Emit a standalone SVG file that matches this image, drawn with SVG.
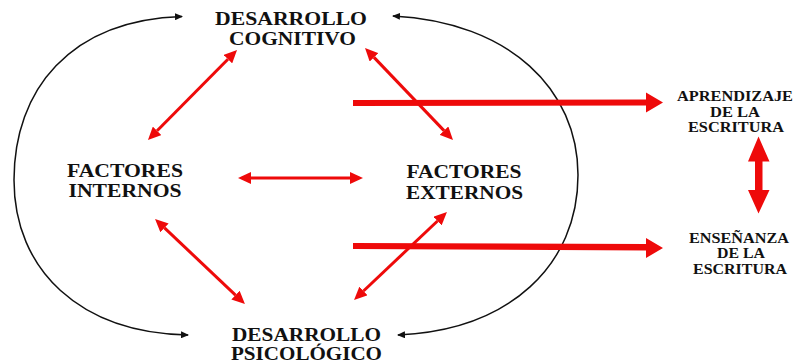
<svg xmlns="http://www.w3.org/2000/svg" width="794" height="364" viewBox="0 0 794 364">
<style>
  .t { font-family: "Liberation Serif", "Times New Roman", serif; font-weight: bold; fill: #111; text-anchor: middle; }
  .big { font-size: 19px; }
  .mid { font-size: 18px; }
  .sm { font-size: 14px; }
  .arc { fill: none; stroke: #111; stroke-width: 1.5; }
  .ra { fill: none; stroke: #ee0a0a; stroke-width: 3; }
  .thick { fill: #ee0a0a; }
</style>
<defs>
  <marker id="bh" viewBox="0 0 8 7" refX="7" refY="3.5" markerWidth="8" markerHeight="7" markerUnits="userSpaceOnUse" orient="auto-start-reverse">
    <path d="M0,0 L8,3.5 L0,7 z" fill="#111"/>
  </marker>
  <marker id="rh" viewBox="0 0 13 12" refX="0" refY="6" markerWidth="13" markerHeight="12" markerUnits="userSpaceOnUse" orient="auto-start-reverse">
    <path d="M0,0 L13,6 L0,12 z" fill="#ee0a0a"/>
  </marker>
</defs>

<g id="connectors">
  <path class="arc" d="M 182,16.5 C 70,20 14,90 14,180 C 14,270 80,333 188,335" marker-start="url(#bh)" marker-end="url(#bh)"/>
  <path class="arc" d="M 393,16 C 510,22 578,90 578,175 C 578,265 510,330 398,335" marker-start="url(#bh)" marker-end="url(#bh)"/>
  <line class="ra" x1="157.1" y1="130.8" x2="227.9" y2="59.2" marker-start="url(#rh)" marker-end="url(#rh)"/>
  <line class="ra" x1="374" y1="57.4" x2="444" y2="130.6" marker-start="url(#rh)" marker-end="url(#rh)"/>
  <line class="ra" x1="251" y1="178" x2="350" y2="178" marker-start="url(#rh)" marker-end="url(#rh)"/>
  <line class="ra" x1="164.5" y1="227.9" x2="235.5" y2="295.1" marker-start="url(#rh)" marker-end="url(#rh)"/>
  <line class="ra" x1="437.5" y1="221" x2="363.5" y2="291" marker-start="url(#rh)" marker-end="url(#rh)"/>
  <polygon class="thick" points="353,100 646,99.5 646,92.5 663,102.5 646,112.5 646,105.5 353,106"/>
  <polygon class="thick" points="353,243 646,244 646,238 663,248 646,258 646,250.5 353,249"/>
  <polygon class="thick" points="758.5,136.5 769.5,161.5 762.5,161.5 762.5,190 769.5,190 758.5,213.5 748,190 755,190 755,161.5 748,161.5"/>
</g>

<g id="desarrollo-cognitivo">
  <text class="t big" x="291" y="25" textLength="152" lengthAdjust="spacingAndGlyphs">DESARROLLO</text>
  <text class="t big" x="292.5" y="45" textLength="127" lengthAdjust="spacingAndGlyphs">COGNITIVO</text>
</g>
<g id="factores-internos">
  <text class="t mid" x="125" y="177" textLength="116" lengthAdjust="spacingAndGlyphs">FACTORES</text>
  <text class="t mid" x="125" y="197" textLength="113" lengthAdjust="spacingAndGlyphs">INTERNOS</text>
</g>
<g id="factores-externos">
  <text class="t mid" x="464" y="178" textLength="115" lengthAdjust="spacingAndGlyphs">FACTORES</text>
  <text class="t mid" x="464.5" y="199" textLength="117" lengthAdjust="spacingAndGlyphs">EXTERNOS</text>
</g>
<g id="desarrollo-psicologico">
  <text class="t big" x="306.5" y="341" textLength="149" lengthAdjust="spacingAndGlyphs">DESARROLLO</text>
  <text class="t big" x="306.5" y="360" textLength="151" lengthAdjust="spacingAndGlyphs">PSICOLÓGICO</text>
</g>
<g id="aprendizaje">
  <text class="t sm" x="735" y="101" textLength="116" lengthAdjust="spacingAndGlyphs">APRENDIZAJE</text>
  <text class="t sm" x="735" y="117" textLength="50" lengthAdjust="spacingAndGlyphs">DE LA</text>
  <text class="t sm" x="736" y="132" textLength="96" lengthAdjust="spacingAndGlyphs">ESCRITURA</text>
</g>
<g id="ensenanza">
  <text class="t sm" x="739" y="243" textLength="100" lengthAdjust="spacingAndGlyphs">ENSEÑANZA</text>
  <text class="t sm" x="741" y="258" textLength="48" lengthAdjust="spacingAndGlyphs">DE LA</text>
  <text class="t sm" x="740" y="274" textLength="94" lengthAdjust="spacingAndGlyphs">ESCRITURA</text>
</g>
</svg>
